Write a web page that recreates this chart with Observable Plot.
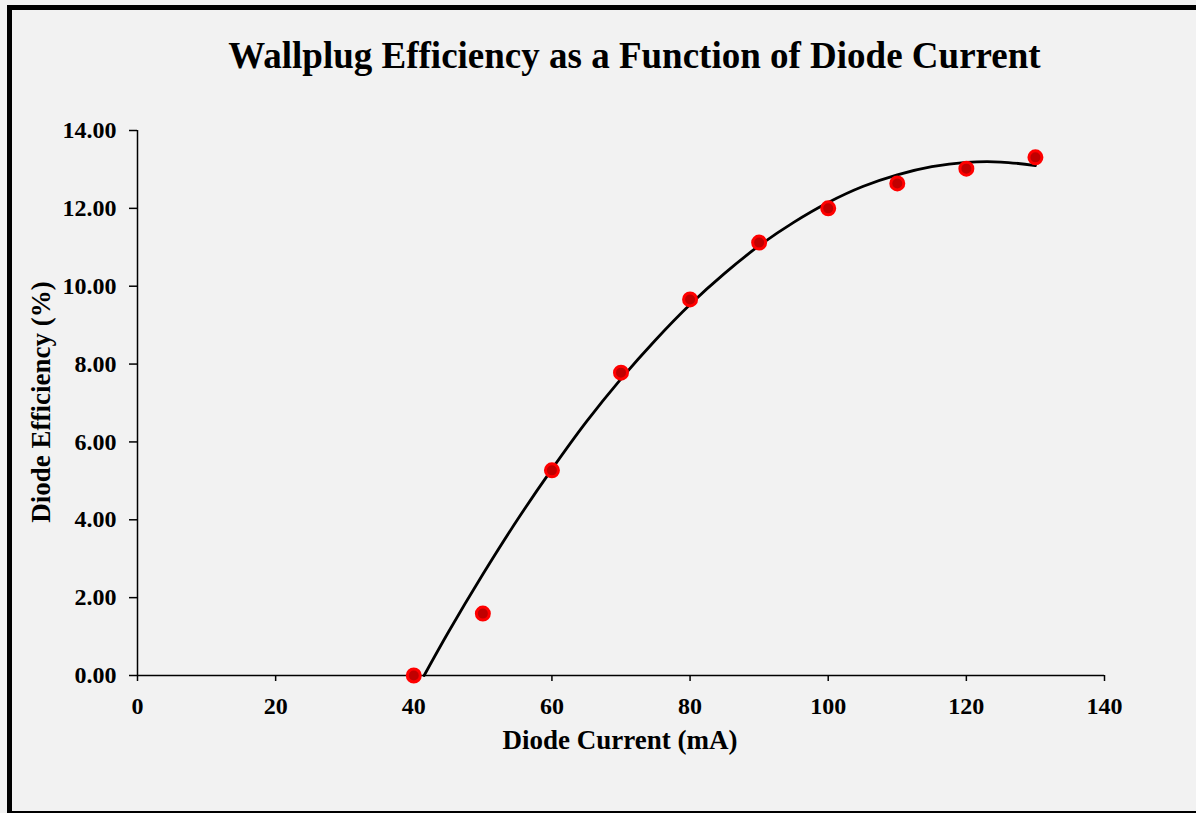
<!DOCTYPE html>
<html><head><meta charset="utf-8">
<script src="https://cdn.jsdelivr.net/npm/d3@7"></script>
<script src="https://cdn.jsdelivr.net/npm/@observablehq/plot@0.6"></script>
<style>
html,body{margin:0;padding:0;background:#f2f2f2;overflow:hidden;}
#wrap{position:relative;width:1196px;height:813px;font-family:"Liberation Serif","Times New Roman",serif;color:#000;}
#frame{position:absolute;left:7px;top:5px;width:1200px;height:808px;box-sizing:border-box;border-left:5px solid #000;border-top:5px solid #000;border-bottom:2px solid #000;}
#chart{position:absolute;left:0;top:0;}
.t{position:absolute;font-weight:bold;white-space:nowrap;}
#title{left:134.5px;width:1000px;text-align:center;top:37px;font-size:37px;line-height:37px;}
#xlabel{left:120px;width:1000px;text-align:center;top:727px;font-size:27px;line-height:27px;}
#ylabel{left:41px;top:402px;font-size:27px;line-height:27px;transform:translate(-50%,-50%) rotate(-90deg);}
</style>
</head><body>
<div id="wrap">
  <div id="frame"></div>
  <div id="chart"></div>
  <div class="t" id="title">Wallplug Efficiency as a Function of Diode Current</div>
  <div class="t" id="xlabel">Diode Current (mA)</div>
  <div class="t" id="ylabel">Diode Efficiency (%)</div>
</div>
<script>
const current = [40, 50, 60, 70, 80, 90, 100, 110, 120, 130];
const efficiency = [0.00, 1.59, 5.27, 7.78, 9.66, 11.12, 12.00, 12.64, 13.02, 13.31];
const fitCurrent = [41.5, 45, 50, 55, 60, 65, 70, 75, 80, 85, 90, 95, 100, 105, 110, 115, 120, 125, 130];
const fitEfficiency = [0, 1.11, 2.6, 4.0, 5.3, 6.52, 7.62, 8.62, 9.53, 10.33, 11.04, 11.64, 12.15, 12.56, 12.86, 13.07, 13.18, 13.19, 13.10];
const xTicks = [0, 20, 40, 60, 80, 100, 120, 140];
const yTicks = [0, 2, 4, 6, 8, 10, 12, 14];

const points = current.map((c, i) => ({current: c, efficiency: efficiency[i]}));
const fit = fitCurrent.map((c, i) => ({current: c, efficiency: fitEfficiency[i]}));

const font = "'Liberation Serif','Times New Roman',serif";
const chart = Plot.plot({
  width: 1196,
  height: 813,
  marginLeft: 137,
  marginRight: 92,
  marginTop: 130,
  marginBottom: 138,
  style: {background: "transparent", fontFamily: font, color: "#000", overflow: "visible"},
  x: {domain: [0, 140]},
  y: {domain: [0, 14]},
  marks: [
    Plot.axisX({ticks: xTicks, tickSize: 6, tickPadding: 15, tickFormat: d => String(d), label: null,
      fontSize: 24, fontWeight: "bold", stroke: "#000", strokeWidth: 1.5}),
    Plot.axisY({ticks: yTicks, tickSize: 8, tickPadding: 13, tickFormat: d3.format(".2f"), label: null,
      fontSize: 24, fontWeight: "bold", stroke: "#000", strokeWidth: 1.5}),
    Plot.ruleY([0], {stroke: "#000", strokeWidth: 1.5}),
    Plot.ruleX([0], {stroke: "#000", strokeWidth: 1.5}),
    Plot.line(fit, {x: "current", y: "efficiency", stroke: "#000", strokeWidth: 2.8, curve: "catmull-rom"}),
    Plot.dot(points, {x: "current", y: "efficiency", r: 6.5, fill: "#c00000", stroke: "#ff0000", strokeWidth: 3})
  ]
});
document.getElementById("chart").appendChild(chart);
</script>
</body></html>
